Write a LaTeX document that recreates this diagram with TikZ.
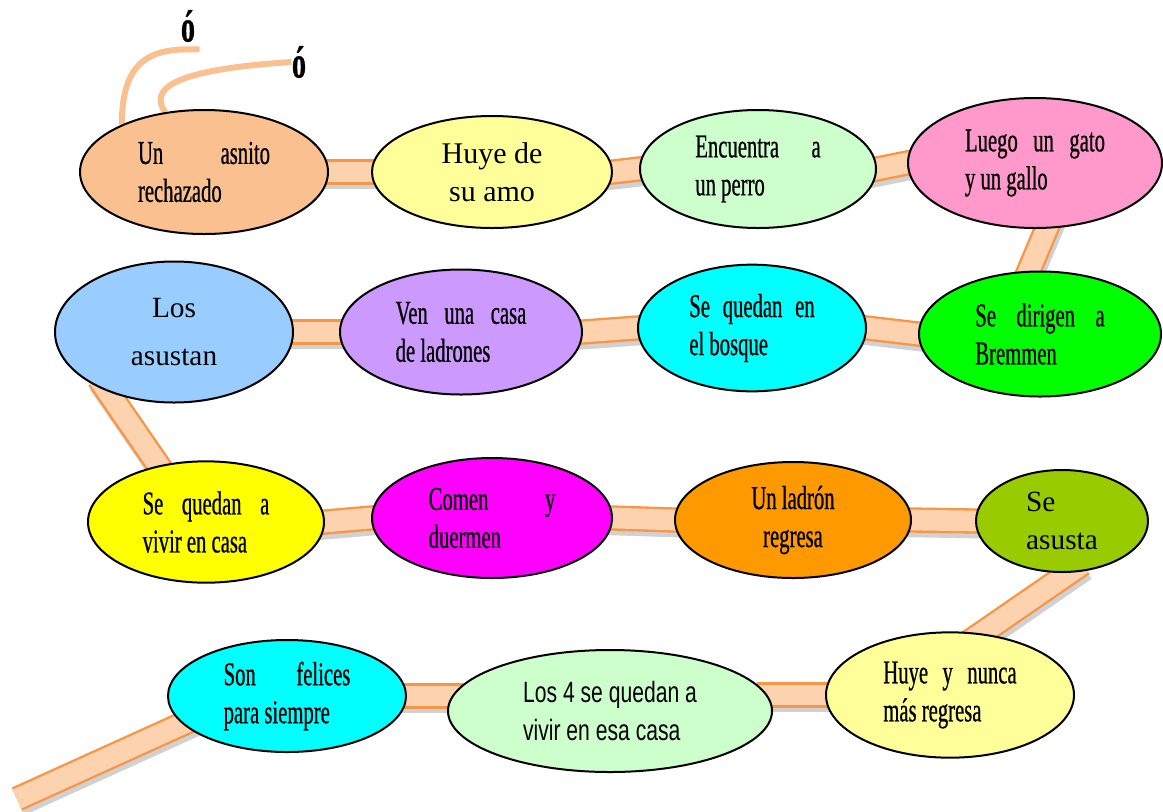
\documentclass[tikz,border=0pt]{standalone}
\usepackage{fontspec}
\setmainfont{Liberation Serif}
\newfontfamily\angosta[FakeStretch=0.62, FakeBold=0.6]{Liberation Serif}
\newfontfamily\angostasans[FakeStretch=0.72]{Liberation Sans}
\usepackage{tikz}
\usetikzlibrary{shapes.geometric}
\usetikzlibrary{backgrounds}
\usetikzlibrary{calc}
\definecolor{durazno}{HTML}{FAC090}
\definecolor{amarillito}{HTML}{FFFF99}
\definecolor{verdecito}{HTML}{CCFFCC}
\definecolor{rosado}{HTML}{FF99CC}
\definecolor{celeste}{HTML}{99CCFF}
\definecolor{lila}{HTML}{CC99FF}
\definecolor{turquesa}{HTML}{00FFFF}
\definecolor{verdon}{HTML}{00FF00}
\definecolor{amarillo}{HTML}{FFFF00}
\definecolor{fucsia}{HTML}{FF00FF}
\definecolor{oliva}{HTML}{99CC00}
\definecolor{naranja}{HTML}{FF9900}
\definecolor{bordebarra}{HTML}{F79646}
\definecolor{rellenobarra}{HTML}{FCD3AE}
\tolerance=10000
\hbadness=10000
\hyphenpenalty=10000
\newcommand*{\puente}[3][]{% #1 = extra options, #2 = from, #3 = to
   \draw[sombra,#1] (#2) -- (#3);
   \draw[barra,#1] (#2) -- (#3);
}

\begin{document}
\begin{tikzpicture}[
		x=0.75pt,
		y=-0.75pt,
		thick
	]
		\tikzstyle{globo}=[
			ellipse,
			draw,
			line width=1.5pt,
			inner sep=0pt,
			align=justify,
			font=\angosta\fontsize{25}{28.5}\selectfont
		]
		\tikzstyle{barra}=[
			draw=bordebarra,
			line width=19pt,
			shorten <=-12pt,
			shorten >=-12pt,
			postaction={draw=rellenobarra, line width=15.5pt}
		]
		\tikzstyle{sombra}=[
			draw=black!40,
			opacity=.45,
			line width=19pt,
			shorten <=-12pt,
			shorten >=-12pt,
			transform canvas={shift={(1.5pt,-3.5pt)}}
		]
		\tikzstyle{cola}=[draw=durazno, line width=4.5pt]
		\tikzstyle{acento}=[inner sep=0pt, font=\angosta\bfseries\fontsize{34}{34}\selectfont]

		\useasboundingbox (0,0) rectangle (1163,811);

		% primera fila
		\node[globo, fill=durazno, minimum width=186pt, minimum height=93pt, text width=99pt] (asnito) at (204,172) {Un asnito\linebreak rechazado};
		\node[globo, fill=amarillito, minimum width=180pt, minimum height=84pt, align=center, font=\fontsize{22.5}{28.5}\selectfont] (huye) at (492,172) {Huye de\\su amo};
		\node[globo, fill=verdecito, minimum width=177pt, minimum height=88.5pt, text width=94pt] (perro) at (758,169) {Encuentra a\linebreak un perro};
		\node[globo, fill=rosado, minimum width=190.5pt, minimum height=97.5pt, text width=105pt] (gatogallo) at (1035,163) {Luego un gato\linebreak y un gallo};

		% segunda fila
		\node[globo, fill=celeste, minimum width=178.5pt, minimum height=105.75pt, align=center, font=\fontsize{22}{36}\selectfont] (asustan) at (174,332) {Los\\asustan};
		\node[globo, fill=lila, minimum width=181.5pt, minimum height=93.75pt, text width=98pt] (ladrones) at (461,332) {Ven una casa\linebreak de ladrones};
		\node[globo, fill=turquesa, minimum width=171pt, minimum height=95pt, text width=94pt] (bosque) at (752,328) {Se quedan en\linebreak el bosque};
		\node[globo, fill=verdon, minimum width=181.5pt, minimum height=93.75pt, text width=97pt] (bremmen) at (1040,334) {Se dirigen a\linebreak Bremmen};

		% tercera fila
		\node[globo, fill=amarillo, minimum width=177pt, minimum height=91pt, text width=95pt] (vivir) at (206,522) {Se quedan a\linebreak vivir en casa};
		\node[globo, fill=fucsia, minimum width=180pt, minimum height=90pt, text width=95pt] (comen) at (492,518) {Comen y\linebreak duermen};
		\node[globo, fill=naranja, minimum width=177pt, minimum height=87pt, align=center] (ladron) at (793,520) {Un ladrón\\regresa};
		\node[globo, fill=oliva, minimum width=129pt, minimum height=76.5pt, align=left, font=\fontsize{22}{28.5}\selectfont] (asusta) at (1062,521) {Se\\asusta};

		% cuarta fila
		\node[globo, fill=turquesa, minimum width=178.5pt, minimum height=84pt, text width=95pt] (felices) at (287,696) {Son felices\linebreak para siempre};
		\node[globo, fill=verdecito, minimum width=243pt, minimum height=91.5pt, align=left, font=\angostasans\fontsize{22}{28.5}\selectfont] (quedan) at (610,711) {Los 4 se quedan a\\vivir en esa casa};
		\node[globo, fill=amarillito, minimum width=186pt, minimum height=94pt, text width=100pt] (nunca) at (950,695) {Huye y nunca\linebreak más regresa};

		\node[acento] (acento1) at (188,26) {ó};
		\node[acento] (acento2) at (299,62) {ó};
		\coordinate (fin) at (17,799);

		\begin{pgfonlayer}{background}
			\puente{asnito.east}{huye.west}
			\puente{huye.east}{perro.west}
			\puente{perro.east}{gatogallo.west}
			\puente{gatogallo.-80}{bremmen.100}
			\puente{bremmen.west}{bosque.east}
			\puente{bosque.west}{ladrones.east}
			\puente{ladrones.west}{asustan.east}
			\puente{asustan.222}{vivir.130}
			\puente{vivir.east}{comen.west}
			\puente{comen.east}{ladron.west}
			\puente{ladron.east}{asusta.west}
			\puente{asusta.-82}{nunca.63}
			\puente{nunca.west}{nunca.west -| quedan.east}
			\puente{felices.east}{felices.east -| quedan.west}
			\puente[shorten >=0pt]{felices.195}{fin}
			\draw[cola] (asnito.150) .. controls (122,62) and (148,47) .. ($(acento1.south east)+(4,7)$);
			\draw[cola] (asnito.123) .. controls (150,90) and (168,70) .. (acento2.west);
		\end{pgfonlayer}
	\end{tikzpicture}
\end{document}
